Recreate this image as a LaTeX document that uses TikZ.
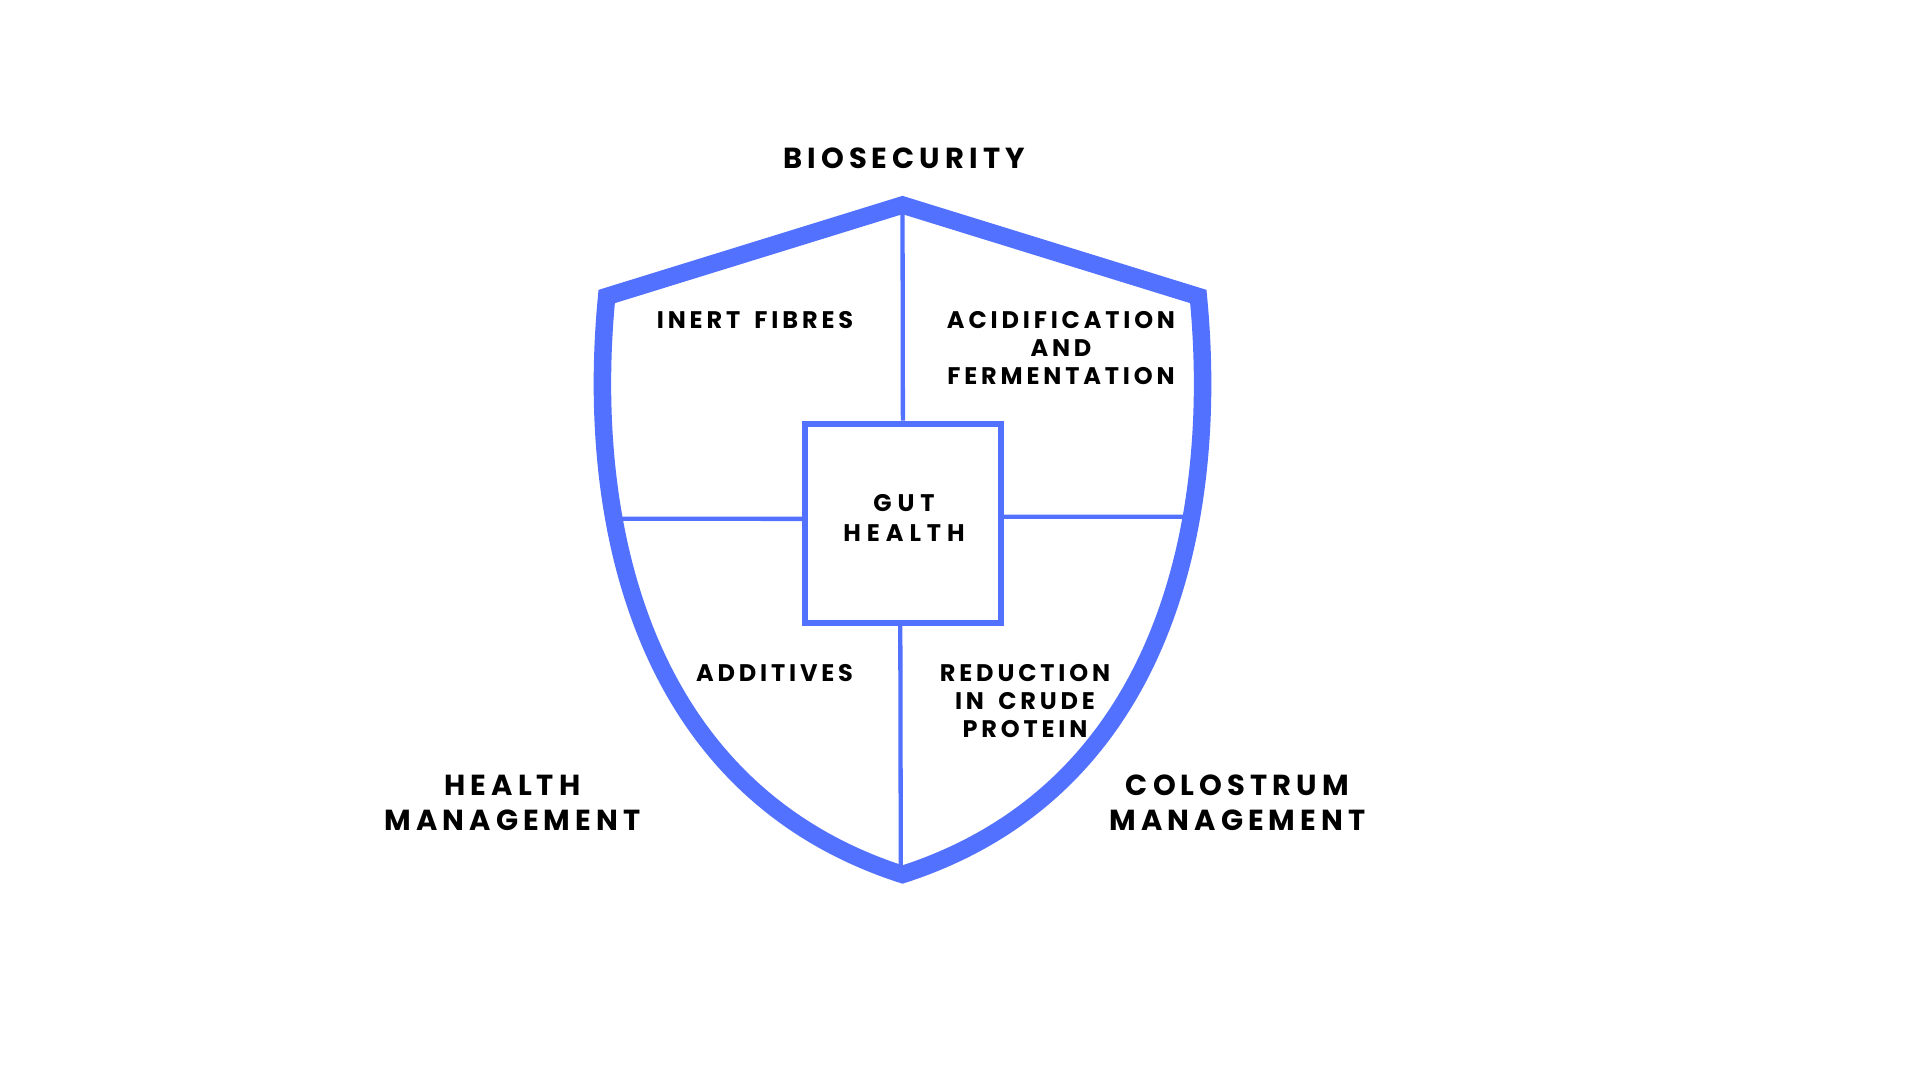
\documentclass[tikz,border=0pt]{standalone}
\usepackage{fontspec}
\setmainfont{Poppins}
\newfontfamily\labelfont{Poppins}[LetterSpace=16,WordSpace=1.6]
\newfontfamily\gutfont{Poppins}[LetterSpace=25,WordSpace=1.6]
\newfontfamily\bigfont{Poppins}[LetterSpace=17.5,WordSpace=1.6]
\definecolor{shieldblue}{HTML}{5271FF}
\begin{document}
\begin{tikzpicture}[x=1pt,y=-1pt,
  shield/.style={draw=shieldblue,line width=17.5pt,line join=miter},
  divider/.style={draw=shieldblue,line width=4.3pt},
  centrebox/.style={draw=shieldblue,line width=6pt,minimum width=195.2pt,minimum height=199.3pt,inner sep=0pt},
  lbl/.style={inner sep=0pt,align=center,text=black,font=\labelfont\bfseries\fontsize{24}{28}\selectfont},
  gutlbl/.style={lbl,font=\gutfont\bfseries\fontsize{24}{30.6}\selectfont},
  biglbl/.style={inner sep=0pt,align=center,text=black,font=\bigfont\bfseries\fontsize{29}{35.4}\selectfont}]
\fill[white] (0,0) rectangle (1920,1080);
\useasboundingbox (0,0) rectangle (1920,1080);
% shield outline points
\coordinate (apex) at (902.5,205);
\coordinate (lc) at (606.7,296.5);
\coordinate (rc) at (1198.3,296.5);
\coordinate (tip) at (902.5,874.5);
\coordinate (tipin) at (900.8,872);
\coordinate (lend) at (614,518.8);
\coordinate (rend) at (1191,516.7);
% centre box
\node[centrebox] (gut) at (902.9,523.35) {};
% dividers
\draw[divider] (gut.north) -- (apex);
\draw[divider] ([xshift=-2.6pt]gut.south) -- (tipin);
\draw[divider] ([yshift=4.5pt]gut.west) -- (lend);
\draw[divider] ([yshift=6.6pt]gut.east) -- (rend);
% shield
\draw[shield] (apex) -- (rc) .. controls (1220,520) and (1165,790) .. (tip)
  .. controls (640,790) and (585,520) .. (lc) -- cycle;
% texts
\node[gutlbl] (guttext) at (904,518) {GUT\\HEALTH};
\node[biglbl] (bio) at (904,158.3) {BIOSECURITY};
\node[lbl] (inert) at (755,320) {INERT FIBRES};
\node[lbl] (acid) at (1061,348) {ACIDIFICATION\\AND\\FERMENTATION};
\node[lbl] (add) at (774.5,673.3) {ADDITIVES};
\node[lbl] (red) at (1025,701.3) {REDUCTION\\IN CRUDE\\PROTEIN};
\node[biglbl] (hm) at (512.5,803) {HEALTH\\MANAGEMENT};
\node[biglbl] (cm) at (1237.5,803) {COLOSTRUM\\MANAGEMENT};
\end{tikzpicture}
\end{document}
